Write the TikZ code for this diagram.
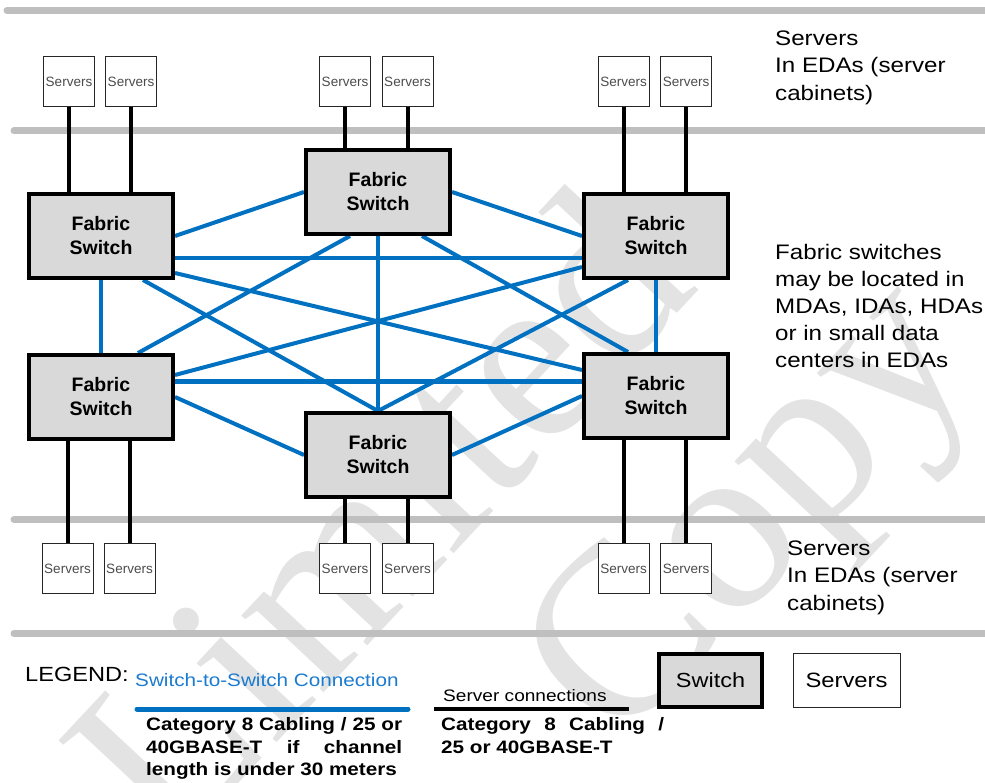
\documentclass[tikz,border=0pt]{standalone}
\usepackage{fontspec}
\setmainfont{Liberation Sans}
\newfontfamily\widefont[FakeStretch=1.15]{Liberation Sans}
\newfontfamily\wmfont{Liberation Serif}

\definecolor{swgray}{HTML}{D9D9D9}
\definecolor{meshblue}{HTML}{0070C0}
\definecolor{legblue}{HTML}{1A7BD0}
\definecolor{bandgray}{HTML}{BFBFBF}
\definecolor{wmgray}{HTML}{E3E3E3}

\pgfdeclarelayer{wmark}
\pgfdeclarelayer{wires}
\pgfsetlayers{wmark,wires,main}

\begin{document}
\begin{tikzpicture}[x=1pt,y=-1pt,
  fabric/.style={draw=black, line width=4pt, fill=swgray, minimum width=144pt,
    minimum height=84pt, inner sep=0pt, align=center,
    font=\fontsize{19.5}{24}\selectfont\bfseries},
  srv/.style={draw=black!85, line width=1pt, fill=white, minimum width=51pt,
    minimum height=50pt, inner sep=0pt, font=\fontsize{13.5}{14}\selectfont,
    text=black!70},
  mesh/.style={draw=meshblue, line width=4pt},
  srvlink/.style={draw=black, line width=4pt},
  band/.style={draw=bandgray, line width=7pt, line cap=round},
  note/.style={anchor=base west, inner sep=0pt, align=left,
    font=\widefont\fontsize{21}{27.5}\selectfont},
  legtext/.style={anchor=base west, inner sep=0pt},
  legbold/.style={anchor=base west, inner sep=0pt, align=justify,
    font=\widefont\bfseries\fontsize{18}{22.7}\selectfont},
  wm/.style={text=wmgray, font=\wmfont\fontsize{245}{245}\selectfont,
    inner sep=0pt, rotate=47},
]
\useasboundingbox (0,0) rectangle (985,783);

% fabric switches
\node[fabric] (LT) at (101,236) {Fabric\\Switch};
\node[fabric] (LB) at (101,397) {Fabric\\Switch};
\node[fabric] (TM) at (378,192) {Fabric\\Switch};
\node[fabric] (RT) at (656,236) {Fabric\\Switch};
\node[fabric] (RB) at (656,396) {Fabric\\Switch};
\node[fabric] (BM) at (378,455) {Fabric\\Switch};

% server cabinets, upper row
\node[srv] (tl1) at (69,81.5) {Servers};
\node[srv] (tl2) at (131,81.5) {Servers};
\node[srv] (tm1) at (345,81.5) {Servers};
\node[srv] (tm2) at (407.5,81.5) {Servers};
\node[srv] (tr1) at (623.5,81.5) {Servers};
\node[srv] (tr2) at (686,81.5) {Servers};
% server cabinets, lower row
\node[srv] (bl1) at (67.5,568.5) {Servers};
\node[srv] (bl2) at (129.5,568.5) {Servers};
\node[srv] (bm1) at (345,568.5) {Servers};
\node[srv] (bm2) at (407.5,568.5) {Servers};
\node[srv] (br1) at (623.5,568.5) {Servers};
\node[srv] (br2) at (686,568.5) {Servers};

% side notes (anchored at the baseline of their last line)
\node[note] (ntop) at (775,100.5) {Servers\\In EDAs (server\\cabinets)};
\node[note, font=\widefont\fontsize{21}{27}\selectfont] (nmid) at (775,368)
  {Fabric switches\\may be located in\\MDAs, IDAs, HDAs\\or in small data\\centers in EDAs};
\node[note] (nbot) at (787,610) {Servers\\In EDAs (server\\cabinets)};

% legend
\node[legtext, font=\widefont\fontsize{20.5}{24}\selectfont] (legtitle) at (25,681) {LEGEND:};
\node[legtext, text=legblue, font=\widefont\fontsize{18}{22}\selectfont] (legmesh) at (135,686)
  {Switch-to-Switch Connection};
\coordinate (lm1) at (137,709);
\coordinate (lm2) at (408,709);
\node[legtext, font=\widefont\fontsize{16.6}{20}\selectfont] (legsrvc) at (443,701)
  {Server connections};
\coordinate (ls1) at (434,709);
\coordinate (ls2) at (629,709);
\node[legbold, text width=256pt] (legmeshd) at (146,730.5)
  {Category 8 Cabling / 25 or\linebreak 40GBASE-T if channel\linebreak length is under 30 meters};
\node[legbold, text width=223pt] (legsrvd) at (441,730.5)
  {Category 8 Cabling /\linebreak 25 or 40GBASE-T};
\node[fabric, minimum width=103pt, minimum height=53pt,
  font=\widefont\fontsize{20.4}{24}\selectfont] (legsw) at (710.5,680.5) {Switch};
\node[srv, minimum width=107pt, minimum height=54pt, text=black,
  font=\widefont\fontsize{20.7}{24}\selectfont] (legsrv) at (846.5,680.5) {Servers};

\begin{pgfonlayer}{wmark}
  \node[wm] (wm1) at (375,515) {Limited};
  \node[wm] (wm2) at (760,520) {Copy};
\end{pgfonlayer}

\begin{pgfonlayer}{wires}
  % zone separators
  \draw[band] (7,10.5) -- (985,10.5);
  \draw[band] (14,131) -- (985,131);
  \draw[band] (14,519.5) -- (985,519.5);
  \draw[band] (14,633.5) -- (985,633.5);

  % server connections
  \foreach \s/\w in {tl1/LT,tl2/LT,tm1/TM,tm2/TM,tr1/RT,tr2/RT}
    \draw[srvlink] (\s.south) -- (\s.south |- \w.north);
  \foreach \s/\w in {bl1/LB,bl2/LB,bm1/BM,bm2/BM,br1/RB,br2/RB}
    \draw[srvlink] (\s.north) -- (\s.north |- \w.south);

  % switch-to-switch mesh
  \draw[mesh] (LT.east) -- (TM.west);
  \draw[mesh] ([yshift=-22pt]LT.east) -- ([yshift=-22pt]RT.west);
  \draw[mesh] ([yshift=-37pt]LT.east) -- ([yshift=26pt]RB.west);
  \draw[mesh] ([xshift=42pt]LT.south) -- (BM.north);
  \draw[mesh] (LT.south) -- (LB.north);
  \draw[mesh] ([xshift=37pt]LB.north) -- ([xshift=-28pt]TM.south);
  \draw[mesh] ([yshift=22pt]LB.east) -- ([yshift=-31pt]RT.west);
  \draw[mesh, line width=5pt] ([yshift=15pt]LB.east) -- ([yshift=14pt]RB.west);
  \draw[mesh] (LB.east) -- (BM.west);
  \draw[mesh] (TM.south) -- (BM.north);
  \draw[mesh] (TM.east) -- (RT.west);
  \draw[mesh] ([xshift=44pt]TM.south) -- ([xshift=-28pt]RB.north);
  \draw[mesh] (RT.south) -- (RB.north);
  \draw[mesh] ([xshift=-28pt]RT.south) -- (BM.north);
  \draw[mesh] (RB.west) -- (BM.east);

  % legend samples
  \draw[draw=meshblue, line width=5pt, line cap=round] (lm1) -- (lm2);
  \draw[draw=black, line width=4pt] (ls1) -- (ls2);
\end{pgfonlayer}
\end{tikzpicture}
\end{document}
